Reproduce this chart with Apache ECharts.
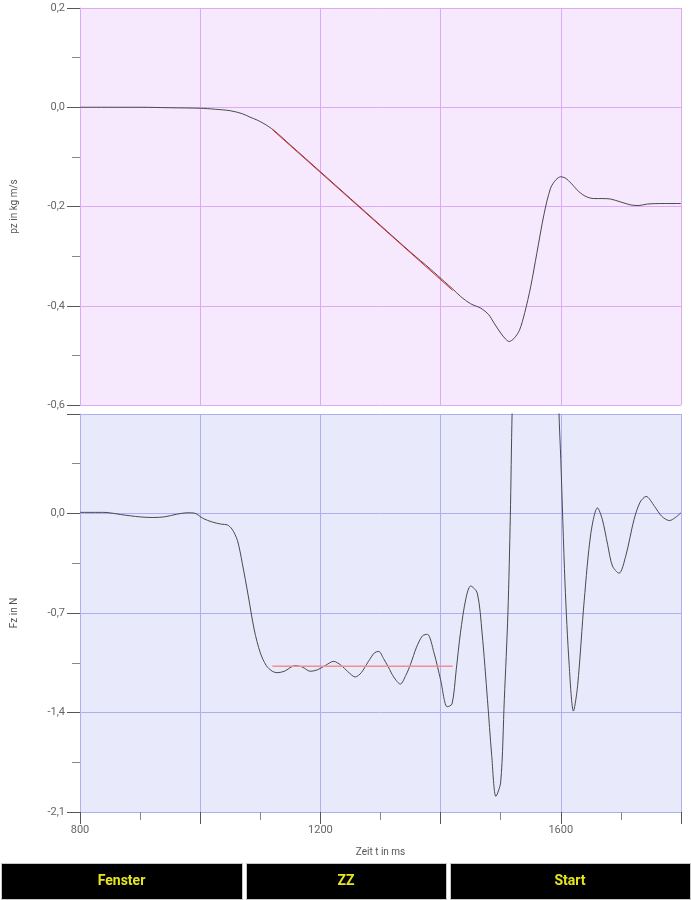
<!DOCTYPE html>
<html>
<head>
<meta charset="utf-8">
<script src="https://cdn.jsdelivr.net/npm/echarts@6/dist/echarts.min.js"></script>
<style>
html,body{margin:0;padding:0;background:#fff;}
#chart{width:691px;height:900px;}
</style>
</head>
<body>
<div id="chart"></div>
<script>
// ---- data ----
const pzTime = [800, 850, 900, 950, 1000, 1025, 1050, 1070, 1083, 1095, 1106, 1122, 1150, 1200, 1250, 1300, 1350, 1383, 1406, 1420, 1433, 1450, 1467, 1480, 1489, 1500, 1508, 1514, 1522, 1531, 1540, 1550, 1560, 1572, 1583, 1592, 1600, 1608, 1617, 1630, 1642, 1655, 1670, 1683, 1700, 1717, 1730, 1744, 1770, 1800];
const pzValues = [0.0, 0.0, 0.0, -0.001, -0.002, -0.004, -0.007, -0.013, -0.02, -0.026, -0.033, -0.046, -0.076, -0.130, -0.184, -0.238, -0.292, -0.326, -0.351, -0.366, -0.381, -0.396, -0.405, -0.418, -0.435, -0.455, -0.467, -0.472, -0.466, -0.450, -0.414, -0.361, -0.295, -0.216, -0.163, -0.146, -0.140, -0.143, -0.153, -0.170, -0.180, -0.184, -0.184, -0.185, -0.191, -0.197, -0.198, -0.195, -0.194, -0.194];

const fzTime = [800, 830, 845, 867, 900, 920, 940, 961, 978, 990, 1005, 1020, 1035, 1045, 1053, 1062, 1070, 1080, 1090, 1100, 1110, 1120, 1128, 1140, 1158, 1170, 1183, 1195, 1208, 1222, 1235, 1245, 1258, 1268, 1280, 1290, 1297, 1305, 1313, 1322, 1333, 1342, 1350, 1360, 1370, 1378, 1389, 1400, 1411, 1419, 1426, 1433, 1442, 1450, 1461, 1469, 1478, 1485, 1492, 1500, 1506, 1512, 1516, 1519, 1530, 1545, 1560, 1575, 1588, 1597, 1600, 1607, 1614, 1621, 1628, 1639, 1650, 1661, 1669, 1678, 1686, 1697, 1708, 1722, 1732, 1742, 1756, 1768, 1781, 1790, 1800];
const fzValues = [0.008, 0.008, 0.007, -0.007, -0.024, -0.028, -0.024, -0.005, 0.005, 0.003, -0.035, -0.06, -0.075, -0.08, -0.11, -0.19, -0.35, -0.58, -0.82, -0.98, -1.07, -1.11, -1.12, -1.11, -1.07, -1.08, -1.11, -1.10, -1.07, -1.04, -1.07, -1.11, -1.15, -1.12, -1.04, -0.98, -0.97, -1.02, -1.08, -1.15, -1.20, -1.14, -1.06, -0.94, -0.86, -0.85, -0.98, -1.17, -1.36, -1.34, -1.10, -0.84, -0.60, -0.51, -0.56, -0.84, -1.31, -1.70, -1.99, -1.89, -1.31, -0.70, -0.02, 0.71, 2.6, 4.0, 4.6, 4.2, 2.6, 0.71, 0.38, -0.49, -1.07, -1.39, -1.21, -0.61, -0.14, 0.04, -0.04, -0.22, -0.37, -0.42, -0.30, -0.04, 0.08, 0.12, 0.05, -0.02, -0.05, -0.03, 0.005];

const fitTime = [1120, 1420];
const pzFitValues = [-0.045, -0.369];
const fzFitValues = [-1.074, -1.074];

const xLabelValues = [800, 1200, 1600];
const buttonLabels = ['Fenster', 'ZZ', 'Start'];

// ---- build ----
const zip = (a, b) => a.map((t, i) => [t, b[i]]);
const fmtComma = v => (Math.abs(v) < 1e-9 ? 0 : v).toFixed(1).replace('.', ',');

const chart = echarts.init(document.getElementById('chart'), null, {renderer: 'canvas'});

const topBg = '#f6e8fd', topGrid = '#deaaf3';
const botBg = '#e9e9fc', botGrid = '#aeaef3';
const tickColor = '#555';
const minorColor = '#888';
const labelColor = '#666';
const fontFam = 'Roboto, "Noto Sans", sans-serif';

function yAxisCfg(gridIndex, min, max, interval, gridColor, name, hideTop) {
  return {
    type: 'value', gridIndex, min, max, interval, position: 'left',
    name, nameLocation: 'middle', nameGap: 61, nameRotate: 90,
    nameTextStyle: {color: '#555', fontSize: 10, fontFamily: fontFam},
    axisLine: {show: true, onZero: false, lineStyle: {color: gridColor, width: 1}},
    axisTick: {show: true, inside: false, length: 13, lineStyle: {color: tickColor, width: 1}},
    minorTick: {show: true, splitNumber: 2, length: 8, lineStyle: {color: minorColor, width: 1}},
    axisLabel: {
      show: true, color: labelColor, fontSize: 11, fontFamily: fontFam, margin: 15,
      formatter: v => (hideTop && v > max - 1e-6) ? '' : fmtComma(v)
    },
    splitLine: {show: true, lineStyle: {color: gridColor, width: 1}},
    minorSplitLine: {show: false}
  };
}

const buttons = [];
const btnBoxes = [[1, 242], [246, 446], [450, 690]];
btnBoxes.forEach((b, i) => {
  buttons.push({
    type: 'rect', left: b[0], top: 863,
    shape: {width: b[1] - b[0], height: 36},
    style: {fill: '#000', stroke: '#c8c8c8', lineWidth: 1}
  });
  buttons.push({
    type: 'text', x: (b[0] + b[1]) / 2, y: 881,
    style: {text: buttonLabels[i], fill: '#e6e61e', font: 'bold 14px Roboto, "Noto Sans", sans-serif', align: 'center', verticalAlign: 'middle'}
  });
});

const option = {
  backgroundColor: '#fff',
  animation: false,
  grid: [
    {left: 80, top: 8, width: 601, height: 397, show: true, backgroundColor: topBg, borderWidth: 0, containLabel: false, outerBoundsMode: 'none'},
    {left: 80, top: 414, width: 601, height: 398, show: true, backgroundColor: botBg, borderWidth: 0, containLabel: false, outerBoundsMode: 'none'}
  ],
  xAxis: [
    {
      type: 'value', gridIndex: 0, min: 800, max: 1800, interval: 200,
      axisLine: {show: false, onZero: false}, axisTick: {show: false}, axisLabel: {show: false},
      splitLine: {show: true, lineStyle: {color: topGrid, width: 1}}
    },
    {
      type: 'value', gridIndex: 1, min: 800, max: 1800, interval: 200, position: 'bottom',
      name: 'Zeit t in ms', nameLocation: 'middle', nameGap: 35,
      nameTextStyle: {color: '#555', fontSize: 10, fontFamily: fontFam},
      axisLine: {show: true, onZero: false, lineStyle: {color: botGrid, width: 1}},
      axisTick: {show: true, inside: false, length: 12, lineStyle: {color: tickColor, width: 1}},
      minorTick: {show: true, splitNumber: 2, length: 8, lineStyle: {color: minorColor, width: 1}},
      axisLabel: {
        show: true, color: labelColor, fontSize: 11, fontFamily: fontFam, margin: 13,
        formatter: v => xLabelValues.includes(v) ? String(v) : ''
      },
      splitLine: {show: true, lineStyle: {color: botGrid, width: 1}}
    }
  ],
  yAxis: [
    yAxisCfg(0, -0.6, 0.2, 0.2, topGrid, 'pz in kg m/s', false),
    yAxisCfg(1, -2.1, 0.7, 0.7, botGrid, 'Fz in N', true)
  ],
  series: [
    {
      type: 'line', xAxisIndex: 0, yAxisIndex: 0, data: zip(pzTime, pzValues),
      showSymbol: false, smooth: 0.3, clip: true,
      lineStyle: {color: '#4a4a4a', width: 1}, z: 2
    },
    {
      type: 'line', xAxisIndex: 0, yAxisIndex: 0, data: zip(fitTime, pzFitValues),
      showSymbol: false, clip: true,
      lineStyle: {color: '#e02a2a', width: 1}, z: 3
    },
    {
      type: 'line', xAxisIndex: 1, yAxisIndex: 1, data: zip(fzTime, fzValues),
      showSymbol: false, smooth: 0.3, clip: true,
      lineStyle: {color: '#4a4a4a', width: 1}, z: 2
    },
    {
      type: 'line', xAxisIndex: 1, yAxisIndex: 1, data: zip(fitTime, fzFitValues),
      showSymbol: false, clip: true,
      lineStyle: {color: '#f09090', width: 1.5}, z: 3
    }
  ],
  graphic: buttons
};
chart.setOption(option);
</script>
</body>
</html>
